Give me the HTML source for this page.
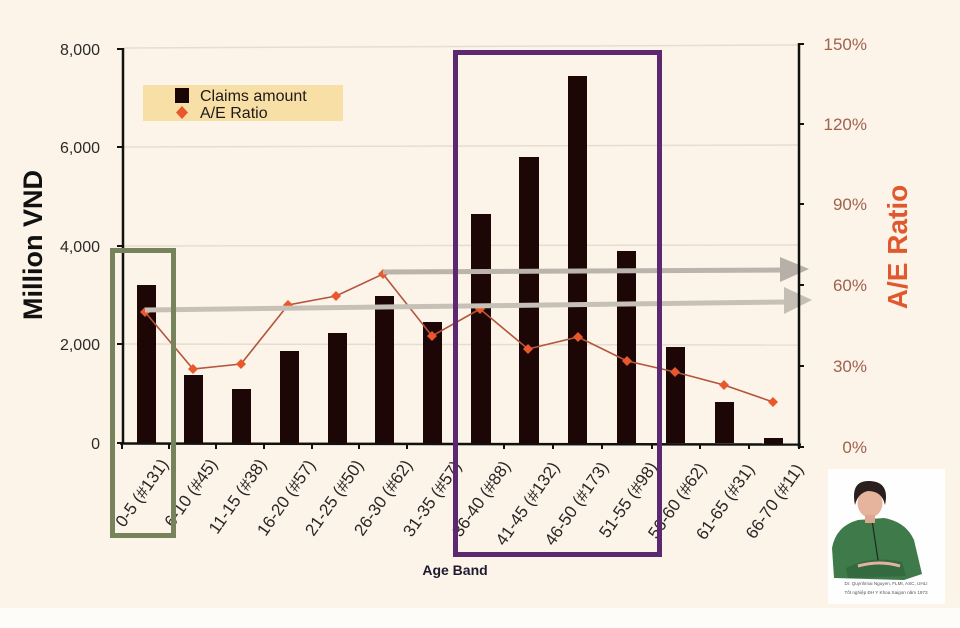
<!DOCTYPE html>
<html><head><meta charset="utf-8"><style>
html,body{margin:0;padding:0;background:#fcf4e9;}
svg{display:block;}
text{font-family:"Liberation Sans",Arial,sans-serif;}
</style></head><body>
<svg width="960" height="628" viewBox="0 0 960 628" xmlns="http://www.w3.org/2000/svg">
<rect x="0" y="0" width="960" height="628" fill="#fcf4e9"/>
<rect x="0" y="608" width="960" height="20" fill="#fefcf9"/>

<!-- gridlines -->
<g stroke="#e6ddd1" stroke-width="1.5">
<line x1="124" y1="48" x2="798" y2="45"/>
<line x1="124" y1="147" x2="798" y2="145"/>
<line x1="124" y1="246" x2="798" y2="245"/>
<line x1="124" y1="344" x2="798" y2="345"/>
</g>

<!-- left tick labels -->
<g font-size="16" fill="#2e2a2a" text-anchor="end">
<text x="100" y="55">8,000</text>
<text x="100" y="153">6,000</text>
<text x="100" y="252">4,000</text>
<text x="100" y="350">2,000</text>
<text x="100" y="449">0</text>
</g>
<!-- right tick labels -->
<g font-size="17" fill="#a0614f" text-anchor="end">
<text x="867" y="50">150%</text>
<text x="867" y="130">120%</text>
<text x="867" y="210">90%</text>
<text x="867" y="291">60%</text>
<text x="867" y="372">30%</text>
<text x="867" y="453">0%</text>
</g>

<text transform="translate(42,245) rotate(-90)" font-size="27" font-weight="bold" fill="#111" text-anchor="middle">Million VND</text>
<text transform="translate(907,247) rotate(-90)" font-size="28" font-weight="bold" fill="#e0592e" text-anchor="middle">A/E Ratio</text>

<!-- bars -->
<g fill="#1c0606">
<rect x="137" y="285" width="19" height="158"/>
<rect x="184" y="375" width="19" height="68"/>
<rect x="232" y="389" width="19" height="54"/>
<rect x="280" y="351" width="19" height="92"/>
<rect x="328" y="333" width="19" height="110"/>
<rect x="375" y="296" width="19" height="147"/>
<rect x="423" y="322" width="19" height="121"/>
<rect x="471" y="214" width="20" height="229"/>
<rect x="519" y="157" width="20" height="286"/>
<rect x="568" y="76" width="19" height="367"/>
<rect x="617" y="251" width="19" height="192"/>
<rect x="666" y="347" width="19" height="96"/>
<rect x="715" y="402" width="19" height="41"/>
<rect x="764" y="438" width="19" height="6"/>
</g>

<!-- A/E line -->
<polyline fill="none" stroke="#b4553c" stroke-width="1.6" points="145,312 193,369 241,364 288,305 336,296 383,274 432,336 480,309 528,349 578,337 627,361 675,372 724,385 773,402"/>
<g fill="#e8582c">
<path d="M145,307 L150,312 L145,317 L140,312Z"/>
<path d="M193,364 L198,369 L193,374 L188,369Z"/>
<path d="M241,359 L246,364 L241,369 L236,364Z"/>
<path d="M288,300 L293,305 L288,310 L283,305Z"/>
<path d="M336,291 L341,296 L336,301 L331,296Z"/>
<path d="M383,269 L388,274 L383,279 L378,274Z"/>
<path d="M432,331 L437,336 L432,341 L427,336Z"/>
<path d="M480,304 L485,309 L480,314 L475,309Z"/>
<path d="M528,344 L533,349 L528,354 L523,349Z"/>
<path d="M578,332 L583,337 L578,342 L573,337Z"/>
<path d="M627,356 L632,361 L627,366 L622,361Z"/>
<path d="M675,367 L680,372 L675,377 L670,372Z"/>
<path d="M724,380 L729,385 L724,390 L719,385Z"/>
<path d="M773,397 L778,402 L773,407 L768,402Z"/>
</g>

<!-- gray arrows -->
<line x1="383" y1="272" x2="784" y2="270" stroke="#bab4ac" stroke-width="5"/>
<polygon points="780,257 809,269 780,282" fill="#b6b0a8"/>
<line x1="145" y1="310" x2="787" y2="302" stroke="#c6c0b7" stroke-width="5"/>
<polygon points="784,287 812,300 784,314" fill="#c4beb5"/>

<!-- axes -->
<g stroke="#111" stroke-width="2.5">
<line x1="123" y1="48" x2="123" y2="444"/>
<line x1="799" y1="43" x2="799" y2="448"/>
<line x1="120" y1="443.5" x2="801" y2="444.5"/>
</g>
<g stroke="#111" stroke-width="2">
<line x1="117" y1="49" x2="123" y2="49"/>
<line x1="117" y1="147" x2="123" y2="147"/>
<line x1="117" y1="246" x2="123" y2="246"/>
<line x1="117" y1="344" x2="123" y2="344"/>
<line x1="117" y1="443" x2="123" y2="443"/>
<line x1="799" y1="44" x2="804" y2="44"/>
<line x1="799" y1="124" x2="804" y2="124"/>
<line x1="799" y1="204" x2="804" y2="204"/>
<line x1="799" y1="285" x2="804" y2="285"/>
<line x1="799" y1="366" x2="804" y2="366"/>
<line x1="799" y1="447" x2="804" y2="447"/>
<line x1="122" y1="444" x2="122" y2="449"/>
<line x1="169" y1="444" x2="169" y2="449"/>
<line x1="216" y1="444" x2="216" y2="449"/>
<line x1="264" y1="444" x2="264" y2="449"/>
<line x1="312" y1="444" x2="312" y2="449"/>
<line x1="359" y1="444" x2="359" y2="449"/>
<line x1="407" y1="444" x2="407" y2="449"/>
<line x1="455" y1="444" x2="455" y2="449"/>
<line x1="504" y1="444" x2="504" y2="449"/>
<line x1="553" y1="444" x2="553" y2="449"/>
<line x1="602" y1="444" x2="602" y2="449"/>
<line x1="652" y1="444" x2="652" y2="449"/>
<line x1="700" y1="444" x2="700" y2="449"/>
<line x1="749" y1="444" x2="749" y2="449"/>
<line x1="799" y1="444" x2="799" y2="449"/>
</g>

<!-- x labels -->
<g font-size="17" fill="#2a2626" text-anchor="end">
<text transform="translate(169,464) rotate(-55)">0-5 (#131)</text>
<text transform="translate(218,464) rotate(-55)">6-10 (#45)</text>
<text transform="translate(267,464) rotate(-55)">11-15 (#38)</text>
<text transform="translate(316,465) rotate(-55)">16-20 (#57)</text>
<text transform="translate(364,465) rotate(-55)">21-25 (#50)</text>
<text transform="translate(413,465) rotate(-55)">26-30 (#62)</text>
<text transform="translate(462,466) rotate(-55)">31-35 (#57)</text>
<text transform="translate(511,466) rotate(-55)">36-40 (#88)</text>
<text transform="translate(560,467) rotate(-55)">41-45 (#132)</text>
<text transform="translate(609,467) rotate(-55)">46-50 (#173)</text>
<text transform="translate(658,467) rotate(-55)">51-55 (#98)</text>
<text transform="translate(707,468) rotate(-55)">56-60 (#62)</text>
<text transform="translate(755,469) rotate(-55)">61-65 (#31)</text>
<text transform="translate(804,469) rotate(-55)">66-70 (#11)</text>
</g>

<text x="455" y="575" font-size="14" font-weight="bold" fill="#1e1a30" text-anchor="middle">Age Band</text>

<!-- highlight rectangles -->
<rect x="112.5" y="250.5" width="61" height="285" fill="none" stroke="#77835a" stroke-width="5"/>
<rect x="455.5" y="52.5" width="204" height="502" fill="none" stroke="#5c2970" stroke-width="5"/>

<!-- legend -->
<rect x="143" y="85" width="200" height="36" fill="#f8dfa6"/>
<rect x="175" y="88" width="14" height="15" fill="#1a0606"/>
<path d="M182,106 L188,112.5 L182,119 L176,112.5Z" fill="#e8582c"/>
<text x="200" y="101" font-size="16" fill="#1e1a1a">Claims amount</text>
<text x="200" y="118" font-size="16" fill="#1e1a1a">A/E Ratio</text>

<!-- photo -->
<rect x="828" y="469" width="117" height="135" fill="#fefefe"/>
<path d="M834,578 L832,548 Q836,526 858,520 L884,518 Q906,522 914,540 L922,574 L904,580 Z" fill="#3e7a4a"/>
<path d="M846,568 Q872,555 902,562 L906,576 L848,578Z" fill="#346a40"/>
<path d="M858,566 Q880,560 900,566" stroke="#e3b39d" stroke-width="3" fill="none"/>
<path d="M872,520 L878,560" stroke="#1e2a22" stroke-width="1.2"/>
<ellipse cx="870" cy="503" rx="12.5" ry="14.5" fill="#e6b39c"/>
<path d="M855,505 Q850,480 870,481 Q890,482 885,505 Q882,491 868,491 Q858,493 855,505Z" fill="#2a1e1e"/>
<rect x="865" y="515" width="10" height="8" fill="#dca892"/>
<text x="886" y="585" font-size="4.6" fill="#555" text-anchor="middle" font-family="Liberation Serif,serif">Dr. Quynhmai Nguyen, FLMI, ASC, UHLI</text>
<text x="886" y="594" font-size="4.6" fill="#555" text-anchor="middle" font-family="Liberation Serif,serif">Tốt nghiệp ĐH Y Khoa Saigon năm 1973</text>
</svg>
</body></html>
